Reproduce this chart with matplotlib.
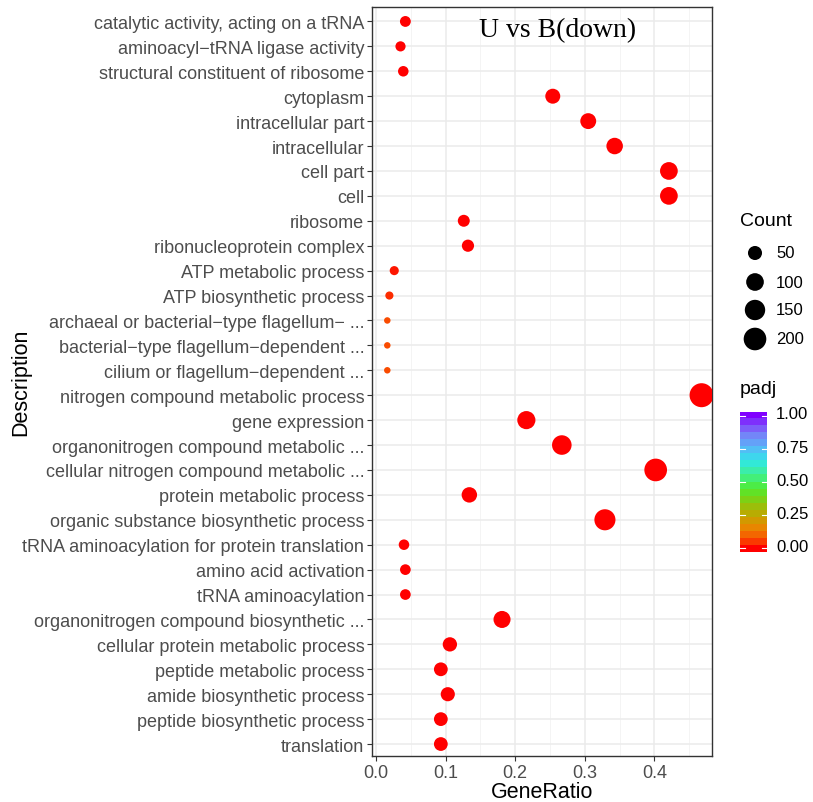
import numpy as np
import matplotlib
matplotlib.use("Agg")
import matplotlib.pyplot as plt
from matplotlib.colors import LinearSegmentedColormap, Normalize

plt.rcParams["font.family"] = ["Liberation Sans", "DejaVu Sans"]

descriptions = [
    "catalytic activity, acting on a tRNA",
    "aminoacyl\u2212tRNA ligase activity",
    "structural constituent of ribosome",
    "cytoplasm",
    "intracellular part",
    "intracellular",
    "cell part",
    "cell",
    "ribosome",
    "ribonucleoprotein complex",
    "ATP metabolic process",
    "ATP biosynthetic process",
    "archaeal or bacterial\u2212type flagellum\u2212 ...",
    "bacterial\u2212type flagellum\u2212dependent ...",
    "cilium or flagellum\u2212dependent ...",
    "nitrogen compound metabolic process",
    "gene expression",
    "organonitrogen compound metabolic ...",
    "cellular nitrogen compound metabolic ...",
    "protein metabolic process",
    "organic substance biosynthetic process",
    "tRNA aminoacylation for protein translation",
    "amino acid activation",
    "tRNA aminoacylation",
    "organonitrogen compound biosynthetic ...",
    "cellular protein metabolic process",
    "peptide metabolic process",
    "amide biosynthetic process",
    "peptide biosynthetic process",
    "translation",
]
gene_ratio = [0.042, 0.035, 0.039, 0.254, 0.305, 0.343, 0.421, 0.421, 0.126, 0.132,
              0.026, 0.019, 0.016, 0.016, 0.016, 0.468, 0.216, 0.267, 0.402, 0.134,
              0.329, 0.040, 0.042, 0.042, 0.181, 0.106, 0.093, 0.103, 0.093, 0.093]
counts = [22, 18, 20, 61, 73, 82, 101, 101, 30, 32,
          13, 10, 8, 8, 8, 234, 108, 134, 201, 67,
          165, 20, 21, 21, 90, 53, 47, 51, 47, 47]
padj = [0.0, 0.0, 0.0, 0.0, 0.0, 0.0, 0.0, 0.0, 0.0, 0.0,
        0.02, 0.04, 0.07, 0.07, 0.07, 0.0, 0.0, 0.0, 0.0, 0.0,
        0.0, 0.0, 0.0, 0.0, 0.0, 0.0, 0.0, 0.0, 0.0, 0.0]
legend_counts = [50, 100, 150, 200]
padj_ticks = [0.0, 0.25, 0.5, 0.75, 1.0]

cmap = LinearSegmentedColormap.from_list("padj", [
    (0.0, "#ff0000"), (0.08, "#f85a00"), (0.16, "#e88800"), (0.25, "#c0a800"),
    (0.35, "#88cc10"), (0.45, "#50ec30"), (0.55, "#40f090"), (0.65, "#30e8e8"),
    (0.75, "#58b8f8"), (0.87, "#7c78f8"), (1.0, "#8000ff")])
norm = Normalize(0, 1)

cmin, cmax = min(counts), max(counts)
def dot_size(c):
    d_px = 6.5 + 17.5 * np.sqrt(np.clip((np.asarray(c, float) - cmin) / (cmax - cmin), 0, None))
    return (d_px * 0.72) ** 2

W, H = 813, 803
fig = plt.figure(figsize=(W / 100, H / 100), dpi=100)
ax = fig.add_axes([372 / W, 1 - 757 / H, 340 / W, 749 / H])

n = len(descriptions)
ypos = np.arange(n)[::-1]
ax.scatter(gene_ratio, ypos, s=dot_size(counts), c=padj, cmap=cmap, norm=norm,
           linewidths=0, zorder=3)

ax.set_xlim(-0.006, 0.483)
ax.set_ylim(-0.48, n - 1 + 0.58)
ax.set_yticks(ypos)
ax.set_yticklabels(descriptions)
ax.set_xticks([0, 0.1, 0.2, 0.3, 0.4])
ax.set_xticklabels(["0.0", "0.1", "0.2", "0.3", "0.4"])
ax.set_xticks([0.05, 0.15, 0.25, 0.35, 0.45], minor=True)
ax.grid(True, which="major", color="#ebebeb", lw=1.1, zorder=0)
ax.grid(True, which="minor", axis="x", color="#f2f2f2", lw=0.6, zorder=0)
ax.set_axisbelow(True)
for sp in ax.spines.values():
    sp.set_color("#333333")
    sp.set_linewidth(1.0)
ax.tick_params(axis="both", which="major", colors="#333333", length=3.5, width=0.8,
               labelsize=13, labelcolor="#4d4d4d", pad=2)
ax.tick_params(axis="x", which="minor", length=0)
ax.set_xlabel("GeneRatio", fontsize=15.5, labelpad=0)
ax.set_ylabel("Description", fontsize=15.5)
ax.yaxis.set_label_coords((31 - 372) / 340, 0.5)
fig.text(558 / W, 1 - 31 / H, "U vs B(down)", ha="center", va="center",
         family="Liberation Serif", fontsize=20)

# Count legend
fig.text(740 / W, 1 - 222 / H, "Count", fontsize=14, va="center", ha="left")
lax = fig.add_axes([740 / W, 1 - 355 / H, 30 / W, 115 / H])
ly = [254, 283, 311, 340]
lax.scatter([0.5] * 4, ly, s=dot_size(legend_counts), c="black", linewidths=0)
lax.set_xlim(0, 1)
lax.set_ylim(355, 240)
lax.axis("off")
for c, y in zip(legend_counts, ly):
    fig.text(776 / W, 1 - y / H, str(c), fontsize=12, va="center", ha="left")

# padj colorbar
fig.text(740 / W, 1 - 390 / H, "padj", fontsize=14, va="center", ha="left")
cax = fig.add_axes([740 / W, 1 - 553 / H, 27 / W, 140 / H])
bands = np.linspace(0, 1, 20)[:, None]
cax.imshow(bands, cmap=cmap, norm=norm, aspect="auto", origin="lower",
           extent=(0, 1, -0.03, 1.03), interpolation="nearest")
cax.set_xlim(0, 1)
cax.set_ylim(-0.03, 1.03)
cax.set_xticks([])
cax.set_yticks([])
for sp in cax.spines.values():
    sp.set_visible(False)
for t in padj_ticks:
    cax.plot([0, 0.2], [t, t], color="white", lw=0.8)
    cax.plot([0.8, 1], [t, t], color="white", lw=0.8)
    fig.text(776 / W, 1 - (548 - t * 133) / H, f"{t:.2f}", fontsize=12,
             va="center", ha="left")

fig.savefig("out.png", dpi=100)
